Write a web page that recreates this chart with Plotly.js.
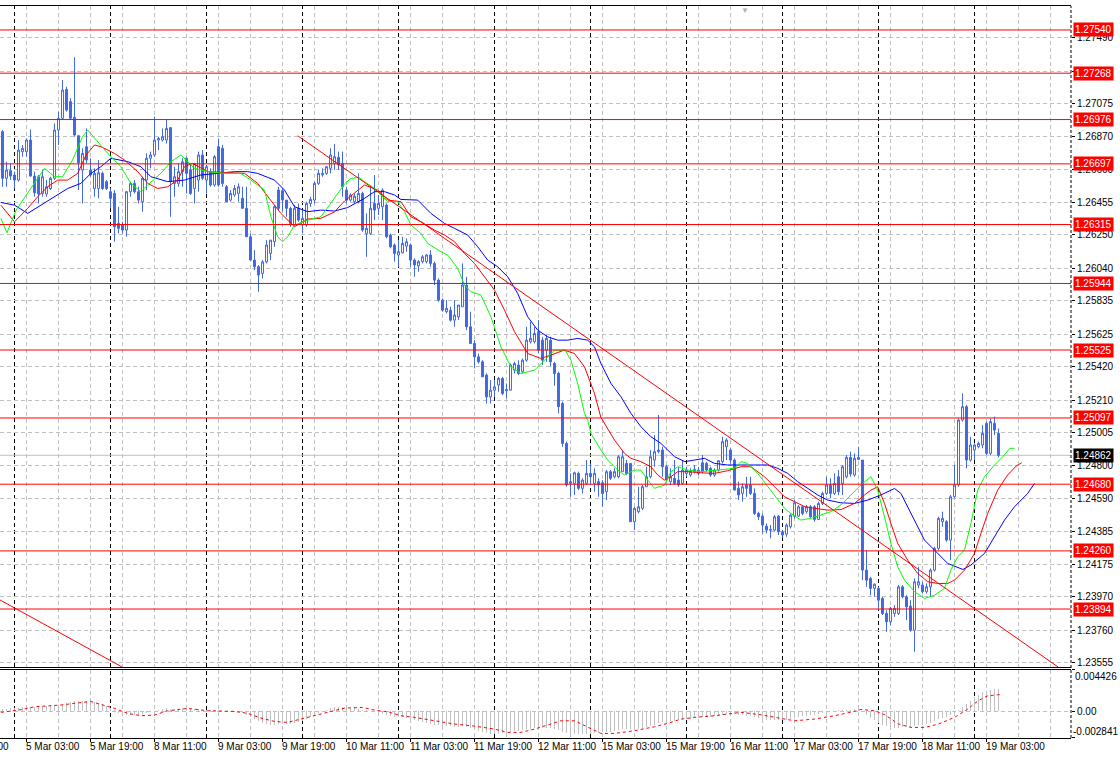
<!DOCTYPE html>
<html><head><meta charset="utf-8">
<script src="https://cdn.plot.ly/plotly-3.0.1.min.js"></script>
<style>html,body{margin:0;padding:0;background:#fff}#chart{width:1120px;height:758px}</style>
</head><body><div id="chart"></div>
<script>
// H1 bars, index 0 = 5 Mar 00:00 (first visible bar index -3)
const firstBar = -3;
const openP = [
1.26900,1.26606,1.26654,1.26627,1.26595,1.26774,1.26774,1.26847,1.26620,1.26616,
1.26511,1.26507,1.26542,1.26606,1.26910,1.26984,1.27166,1.27089,1.26990,1.26874,
1.26658,1.26805,1.26658,1.26542,1.26542,1.26637,1.26585,1.26522,1.26511,1.26322,
1.26312,1.26280,1.26522,1.26574,1.26522,1.26459,1.26595,1.26732,1.26753,1.26847,
1.26847,1.26847,1.26925,1.26574,1.26574,1.26648,1.26732,1.26658,1.26542,1.26595,
1.26753,1.26595,1.26648,1.26564,1.26805,1.26795,1.26553,1.26469,1.26501,1.26511,
1.26480,1.26417,1.26238,1.26091,1.26049,1.26007,1.26080,1.26133,1.26207,1.26532,
1.26528,1.26469,1.26417,1.26312,1.26417,1.26312,1.26312,1.26448,1.26469,1.26574,
1.26627,1.26637,1.26669,1.26700,1.26738,1.26700,1.26532,1.26469,1.26459,1.26459,
1.26511,1.26259,1.26259,1.26448,1.26417,1.26427,1.26438,1.26249,1.26186,1.26123,
1.26137,1.26179,1.26186,1.26091,1.26055,1.26081,1.26081,1.26123,1.26070,1.25965,
1.25839,1.25766,1.25776,1.25713,1.25734,1.25797,1.25934,1.25671,1.25566,1.25482,
1.25451,1.25367,1.25230,1.25272,1.25304,1.25346,1.25268,1.25272,1.25398,1.25430,
1.25388,1.25461,1.25577,1.25577,1.25640,1.25587,1.25524,1.25587,1.25440,1.25378,
1.25189,1.24937,1.24685,1.24685,1.24748,1.24654,1.24685,1.24748,1.24685,1.24696,
1.24689,1.24633,1.24759,1.24727,1.24727,1.24759,1.24811,1.24811,1.24444,1.24507,
1.24528,1.24664,1.24727,1.24832,1.24885,1.24895,1.24790,1.24696,1.24717,1.24706,
1.24685,1.24748,1.24738,1.24759,1.24748,1.24815,1.24811,1.24780,1.24738,1.24769,
1.24822,1.24916,1.24895,1.24832,1.24654,1.24622,1.24675,1.24675,1.24622,1.24496,
1.24479,1.24416,1.24395,1.24391,1.24479,1.24381,1.24366,1.24412,1.24479,1.24479,
1.24538,1.24507,1.24538,1.24538,1.24458,1.24559,1.24622,1.24675,1.24622,1.24727,
1.24685,1.24727,1.24849,1.24738,1.24836,1.24832,1.24139,1.24087,1.24024,1.24024,
1.23961,1.23866,1.23814,1.23866,1.23866,1.24034,1.23971,1.23912,1.23761,1.24045,
1.24045,1.24003,1.24034,1.24139,1.24276,1.24444,1.24444,1.24328,1.24601,1.24675,
1.25084,1.25168,1.24832,1.24895,1.24916,1.24927,1.25063,1.24874,1.25063,1.25000];
const highP = [
1.26910,1.26710,1.26700,1.26648,1.26847,1.26816,1.26857,1.26914,1.26648,1.26627,
1.26658,1.26595,1.26616,1.26952,1.27026,1.27225,1.27183,1.27110,1.27368,1.26879,
1.26795,1.26920,1.26732,1.26669,1.26721,1.26648,1.26595,1.26542,1.26532,1.26427,
1.26333,1.26522,1.26585,1.26595,1.26553,1.26616,1.26763,1.26774,1.26994,1.26868,
1.26920,1.26973,1.26927,1.26679,1.26700,1.26732,1.26742,1.26690,1.26700,1.26774,
1.26784,1.26690,1.26669,1.26753,1.26857,1.26816,1.26564,1.26532,1.26564,1.26574,
1.26553,1.26553,1.26259,1.26154,1.26060,1.26091,1.26217,1.26217,1.26438,1.26553,
1.26542,1.26469,1.26427,1.26438,1.26448,1.26406,1.26459,1.26490,1.26585,1.26658,
1.26669,1.26683,1.26795,1.26822,1.26774,1.26774,1.26553,1.26511,1.26511,1.26637,
1.26522,1.26385,1.26564,1.26627,1.26501,1.26543,1.26448,1.26259,1.26196,1.26217,
1.26238,1.26228,1.26196,1.26102,1.26091,1.26123,1.26129,1.26154,1.26081,1.25976,
1.25850,1.25839,1.25797,1.25839,1.25808,1.26070,1.25986,1.25766,1.25587,1.25503,
1.25461,1.25377,1.25335,1.25335,1.25356,1.25356,1.25314,1.25440,1.25451,1.25461,
1.25472,1.25671,1.25703,1.25671,1.25713,1.25608,1.25619,1.25608,1.25451,1.25389,
1.25200,1.24948,1.24748,1.24759,1.24759,1.24717,1.24832,1.24811,1.24780,1.24717,
1.24706,1.24769,1.24769,1.24780,1.24864,1.24895,1.24832,1.24811,1.24538,1.24664,
1.24675,1.24790,1.24895,1.24990,1.25116,1.24916,1.24801,1.24780,1.24832,1.24790,
1.24832,1.24790,1.24780,1.24801,1.24790,1.24864,1.24822,1.24790,1.24780,1.24832,
1.24979,1.24969,1.24906,1.24843,1.24696,1.24685,1.24727,1.24727,1.24654,1.24507,
1.24496,1.24433,1.24423,1.24486,1.24486,1.24391,1.24433,1.24496,1.24580,1.24549,
1.24549,1.24549,1.24549,1.24549,1.24570,1.24633,1.24727,1.24717,1.24748,1.24769,
1.24801,1.24864,1.24885,1.24874,1.24916,1.24832,1.24265,1.24097,1.24055,1.24034,
1.23971,1.23887,1.23908,1.23919,1.24045,1.24045,1.23981,1.23950,1.24087,1.24160,
1.24066,1.24055,1.24150,1.24286,1.24475,1.24507,1.24454,1.24612,1.24801,1.25094,
1.25252,1.25179,1.24979,1.24937,1.24948,1.25052,1.25074,1.25094,1.25105,1.25031];
const lowP = [
1.26553,1.26553,1.26595,1.26542,1.26585,1.26742,1.26742,1.26616,1.26490,1.26448,
1.26490,1.26490,1.26532,1.26595,1.26816,1.26973,1.27026,1.26973,1.26868,1.26532,
1.26448,1.26700,1.26616,1.26490,1.26480,1.26532,1.26532,1.26417,1.26207,1.26259,
1.26259,1.26238,1.26490,1.26511,1.26448,1.26396,1.26532,1.26669,1.26742,1.26784,
1.26837,1.26826,1.26364,1.26490,1.26553,1.26553,1.26511,1.26501,1.26448,1.26522,
1.26595,1.26511,1.26553,1.26553,1.26553,1.26553,1.26459,1.26459,1.26490,1.26459,
1.26417,1.26238,1.26091,1.26028,1.25892,1.25976,1.26070,1.26091,1.26175,1.26406,
1.26396,1.26364,1.26301,1.26301,1.26333,1.26259,1.26301,1.26427,1.26448,1.26564,
1.26616,1.26627,1.26637,1.26658,1.26658,1.26490,1.26448,1.26459,1.26448,1.26448,
1.26270,1.26112,1.26249,1.26343,1.26375,1.26343,1.26228,1.26165,1.26081,1.26049,
1.26133,1.26144,1.26049,1.25986,1.26018,1.26070,1.26070,1.26049,1.25934,1.25828,
1.25766,1.25755,1.25703,1.25671,1.25713,1.25797,1.25650,1.25566,1.25409,1.25440,
1.25356,1.25188,1.25188,1.25230,1.25262,1.25241,1.25220,1.25268,1.25377,1.25367,
1.25377,1.25451,1.25566,1.25566,1.25503,1.25430,1.25451,1.25420,1.25300,1.25126,
1.24916,1.24664,1.24601,1.24612,1.24643,1.24622,1.24675,1.24675,1.24633,1.24601,
1.24538,1.24580,1.24706,1.24717,1.24717,1.24759,1.24738,1.24444,1.24391,1.24496,
1.24517,1.24664,1.24717,1.24790,1.24874,1.24727,1.24696,1.24675,1.24675,1.24664,
1.24675,1.24727,1.24727,1.24748,1.24738,1.24748,1.24759,1.24727,1.24727,1.24759,
1.24811,1.24832,1.24811,1.24643,1.24580,1.24570,1.24601,1.24612,1.24486,1.24454,
1.24370,1.24370,1.24339,1.24381,1.24360,1.24345,1.24349,1.24401,1.24464,1.24475,
1.24485,1.24496,1.24464,1.24444,1.24454,1.24549,1.24612,1.24591,1.24612,1.24612,
1.24612,1.24717,1.24727,1.24727,1.24832,1.24076,1.24034,1.23981,1.23971,1.23887,
1.23856,1.23751,1.23793,1.23845,1.23856,1.23961,1.23824,1.23751,1.23625,1.24024,
1.23992,1.23992,1.23971,1.24129,1.24265,1.24412,1.24318,1.24202,1.24591,1.24664,
1.25074,1.24780,1.24822,1.24832,1.24906,1.24906,1.24864,1.24864,1.24990,1.24849];
const closeP = [
1.26606,1.26658,1.26620,1.26595,1.26784,1.26795,1.26847,1.26620,1.26515,1.26507,
1.26616,1.26553,1.26606,1.26910,1.26984,1.27162,1.27036,1.26984,1.26879,1.26704,
1.26763,1.26721,1.26627,1.26637,1.26641,1.26542,1.26542,1.26480,1.26301,1.26291,
1.26280,1.26522,1.26574,1.26522,1.26469,1.26606,1.26732,1.26753,1.26847,1.26857,
1.26868,1.26920,1.26585,1.26616,1.26648,1.26710,1.26637,1.26511,1.26700,1.26753,
1.26606,1.26679,1.26564,1.26742,1.26564,1.26574,1.26459,1.26511,1.26542,1.26553,
1.26417,1.26238,1.26091,1.26049,1.25997,1.26080,1.26186,1.26217,1.26427,1.26417,
1.26469,1.26417,1.26322,1.26417,1.26343,1.26354,1.26448,1.26473,1.26574,1.26637,
1.26637,1.26679,1.26753,1.26742,1.26690,1.26553,1.26469,1.26501,1.26494,1.26511,
1.26280,1.26291,1.26417,1.26406,1.26448,1.26532,1.26238,1.26175,1.26133,1.26144,
1.26196,1.26207,1.26091,1.26060,1.26081,1.26112,1.26123,1.26070,1.25965,1.25839,
1.25776,1.25787,1.25713,1.25745,1.25808,1.25934,1.25671,1.25566,1.25482,1.25451,
1.25356,1.25230,1.25272,1.25293,1.25346,1.25251,1.25276,1.25430,1.25440,1.25377,
1.25461,1.25587,1.25598,1.25629,1.25524,1.25461,1.25598,1.25451,1.25377,1.25168,
1.24937,1.24675,1.24696,1.24752,1.24654,1.24706,1.24748,1.24727,1.24748,1.24675,
1.24622,1.24759,1.24717,1.24759,1.24853,1.24853,1.24748,1.24444,1.24528,1.24538,
1.24664,1.24727,1.24853,1.24885,1.24895,1.24790,1.24706,1.24727,1.24685,1.24675,
1.24769,1.24769,1.24759,1.24773,1.24769,1.24759,1.24769,1.24738,1.24769,1.24828,
1.24948,1.24958,1.24832,1.24643,1.24612,1.24664,1.24654,1.24622,1.24496,1.24475,
1.24423,1.24391,1.24391,1.24475,1.24381,1.24360,1.24423,1.24485,1.24563,1.24538,
1.24496,1.24538,1.24475,1.24458,1.24559,1.24622,1.24675,1.24622,1.24685,1.24633,
1.24790,1.24849,1.24744,1.24843,1.24849,1.24139,1.24076,1.24024,1.24051,1.23950,
1.23866,1.23814,1.23898,1.23898,1.24034,1.23971,1.23908,1.23761,1.24066,1.24066,
1.24003,1.24034,1.24139,1.24276,1.24465,1.24465,1.24328,1.24601,1.24675,1.25084,
1.25168,1.24832,1.24927,1.24927,1.24937,1.24999,1.24874,1.25074,1.25021,1.24862];

// Alligator lines (bar index, price)
const jawIdx = [-3.4,0,3.3,6.6,10,13.3,16.6,19.1,21.6,24.1,28.3,31.6,34.1,38.3,42.5,46.6,55,58.3,60.8,65,67.5,70,73.3,76.6,80,83.3,87.5,90,92.5,95,96.6,100.8,104.1,107.5,110,113.3,115.8,118.3,120.8,123.3,125.8,128.3,130.8,133.3,135.8,138.3,140.8,143.3,145,146.6,149.1,151.6,154.1,156.6,159.1,161.6,165,167.6,170,172.5,175,178.3,181.6,185,188.3,190.8,193.3,195.8,198.3,200.8,203.3,206.6,210,213.3,216.6,220,221.6,225,227.5,230,233.3,237.1,239.1,242.5,245,247.5,250,253.3,255];
const jawPrice = [1.26454,1.26437,1.26385,1.26437,1.26490,1.26542,1.26574,1.26637,1.26679,1.26732,1.26711,1.26679,1.26616,1.26585,1.26595,1.26627,1.26648,1.26648,1.26637,1.26595,1.26532,1.26427,1.26396,1.26406,1.26400,1.26422,1.26480,1.26522,1.26522,1.26501,1.26473,1.26469,1.26385,1.26322,1.26291,1.26249,1.26175,1.26091,1.26049,1.25986,1.25881,1.25734,1.25650,1.25608,1.25587,1.25587,1.25598,1.25587,1.25545,1.25440,1.25315,1.25231,1.25126,1.25042,1.24979,1.24937,1.24853,1.24822,1.24832,1.24843,1.24811,1.24801,1.24801,1.24801,1.24801,1.24780,1.24748,1.24696,1.24654,1.24612,1.24580,1.24563,1.24559,1.24580,1.24612,1.24653,1.24622,1.24454,1.24328,1.24265,1.24181,1.24143,1.24171,1.24244,1.24349,1.24454,1.24538,1.24622,1.24685];
const teethIdx = [-3.4,0,3.3,5.8,8.3,10.8,13.3,15.8,17.9,20,21.6,25,27.5,30.8,33.3,35.8,38.3,40.8,42.5,44.5,48.3,55,57.5,60.8,63.3,66.6,70,73.3,76.6,80,82.5,85,87.5,90.8,93.3,96.6,99.1,101.6,105,107.5,110,112.5,115,117.5,120,122.5,125,128.3,131.6,134.1,137.4,140,142.5,145,146.6,150,152.5,154.1,156.6,159.1,160.8,162.5,164.1,165.8,168.3,171.6,175,178.3,181.6,184.1,187.5,190,192.5,195,197.6,200,203.3,206.6,210,212.5,214.1,215.8,217.5,219.1,220.8,223.3,225.8,228.3,230.8,233.3,235,237.5,240,241.6,243.3,245.8,248.3,250.4,251.8];
const teethPrice = [1.26437,1.26332,1.26417,1.26490,1.26553,1.26595,1.26595,1.26637,1.26753,1.26816,1.26805,1.26763,1.26721,1.26648,1.26574,1.26542,1.26553,1.26595,1.26679,1.26700,1.26648,1.26637,1.26637,1.26574,1.26490,1.26385,1.26301,1.26350,1.26354,1.26395,1.26463,1.26516,1.26564,1.26532,1.26469,1.26459,1.26364,1.26333,1.26280,1.26249,1.26207,1.26133,1.26070,1.25986,1.25902,1.25776,1.25640,1.25503,1.25472,1.25493,1.25524,1.25503,1.25419,1.25251,1.25100,1.24958,1.24874,1.24843,1.24822,1.24790,1.24738,1.24706,1.24727,1.24759,1.24759,1.24752,1.24748,1.24765,1.24790,1.24790,1.24727,1.24664,1.24601,1.24570,1.24538,1.24528,1.24517,1.24520,1.24559,1.24612,1.24643,1.24664,1.24559,1.24433,1.24307,1.24202,1.24118,1.24066,1.24055,1.24055,1.24076,1.24139,1.24244,1.24370,1.24496,1.24643,1.24738,1.24794,1.24815];
const lipsIdx = [-3.4,-1.9,0.4,5,7.5,10,12,14.5,17,18.3,20.4,23.3,26.6,29.1,31.6,33.3,36.6,39.1,41.6,42.9,45,48.3,52.5,56.6,59.1,62.5,64.1,65.8,67,68.3,70,73.3,76.6,79.1,82.5,84.1,86.1,87.5,90,93.3,95.8,97.5,99.1,101.6,103.3,106.6,108.3,110.8,112.5,114.1,116.6,119.1,121.6,124.1,126.6,130,131.6,133.3,135,137.6,139.1,140.8,142.5,143.3,144.1,146.6,148.3,150.8,152.5,155,156.6,158.3,160,162.5,164.1,165.8,168.3,171.6,175.8,180,181.6,183.3,185.8,189.1,192.5,194.1,196.6,199.1,201.6,204.1,206.6,209.1,211.6,214.1,215.8,217.5,219.1,220.8,222.5,225,227.5,230,232.5,234.1,235.8,237.5,239.1,240.8,242.5,245,247.5,248.8,250];
const lipsPrice = [1.26354,1.26263,1.26406,1.26574,1.26669,1.26616,1.26616,1.26721,1.26868,1.26910,1.26847,1.26763,1.26679,1.26574,1.26522,1.26564,1.26637,1.26710,1.26753,1.26721,1.26669,1.26648,1.26637,1.26637,1.26595,1.26532,1.26364,1.26238,1.26207,1.26238,1.26312,1.26343,1.26364,1.26450,1.26570,1.26605,1.26612,1.26585,1.26543,1.26459,1.26459,1.26396,1.26312,1.26259,1.26196,1.26144,1.26123,1.26039,1.25934,1.25892,1.25871,1.25734,1.25545,1.25419,1.25377,1.25398,1.25440,1.25482,1.25524,1.25524,1.25461,1.25314,1.25125,1.25083,1.25000,1.24895,1.24832,1.24769,1.24738,1.24769,1.24769,1.24706,1.24654,1.24675,1.24759,1.24790,1.24769,1.24759,1.24769,1.24780,1.24822,1.24811,1.24748,1.24643,1.24528,1.24496,1.24454,1.24465,1.24486,1.24507,1.24549,1.24612,1.24675,1.24727,1.24643,1.24475,1.24307,1.24160,1.24076,1.24003,1.23961,1.23981,1.24024,1.24139,1.24223,1.24265,1.24433,1.24643,1.24727,1.24801,1.24864,1.24906,1.24906];

// trend lines (bar index, price)
const trend1Idx = [70.8, 260.9];
const trend1Price = [1.26874, 1.23529];
const trend2Idx = [-3.625, 26.9];
const trend2Price = [1.23951, 1.23529];

// horizontal levels and current bid
const levels = [1.27540,1.27268,1.26976,1.26697,1.26315,1.25944,1.25525,1.25097,1.24680,1.24260,1.23894];
const bidPrice = 1.24862;

// MACD (main histogram per bar, signal read at points)
const macdHist = [
0.0003,0.0003,0.00035,0.00035,0.0004,0.00045,0.0005,0.0005,0.0005,0.00055,0.00055,0.0006,0.0006,
0.00065,0.0007,0.0008,0.0009,0.001,0.0011,0.00115,0.0011,0.0011,0.0011,0.001,0.0009,0.0008,0.0006,0.0004,0.0001,
-0.0002,-0.0003,-0.00035,-0.00035,-0.00035,-0.00035,-0.0003,-0.0002,-0.0001,0.00005,0.0002,0.0003,0.00035,0.0003,0.0003,0.0003,0.00035,0.00035,0.0003,0.0003,
0.00025,0.0002,0.00015,0.0001,0.0001,0.0001,0.00005,0,-0.00005,-0.00005,-0.0001,-0.0002,-0.0004,-0.0006,-0.0008,-0.001,-0.0012,-0.0013,-0.0014,-0.0014,
-0.00135,-0.0013,-0.0013,-0.0013,-0.00125,-0.0011,-0.001,-0.0008,-0.0006,-0.0004,-0.0002,0,0.0002,0.00035,0.00045,0.0005,0.00045,0.0004,0.0004,0.0004,
0.0003,0.0002,0.0001,0,-0.00005,-0.00015,-0.00025,-0.00035,-0.00045,-0.00055,-0.0006,-0.00065,-0.0007,-0.0008,-0.0009,-0.001,-0.0011,-0.0012,-0.0013,-0.0014,
-0.0015,-0.00155,-0.0016,-0.0016,-0.00165,-0.00165,-0.0016,-0.0017,-0.0018,-0.00195,-0.0021,-0.0022,-0.0023,-0.0024,-0.0024,-0.0024,-0.00235,-0.0023,-0.0022,-0.0021,
-0.00205,-0.002,-0.0019,-0.00185,-0.0018,-0.0018,-0.0018,-0.0018,-0.0018,-0.0019,-0.002,-0.00215,-0.0023,-0.0024,-0.00245,-0.00245,-0.00245,-0.0024,-0.0024,-0.00235,
-0.0023,-0.00225,-0.0022,-0.00215,-0.0021,-0.002,-0.0019,-0.00185,-0.0019,-0.0019,-0.00185,-0.0018,-0.0017,-0.00155,-0.0014,-0.00125,-0.00115,-0.0011,-0.00105,-0.001,
-0.00095,-0.0009,-0.00085,-0.0008,-0.00075,-0.0007,-0.00065,-0.0006,-0.00055,-0.0005,-0.00045,-0.00035,-0.0003,-0.00025,-0.0003,-0.00035,-0.0004,-0.00045,-0.0005,-0.0006,
-0.0007,-0.0008,-0.0009,-0.00095,-0.00095,-0.00095,-0.00095,-0.0009,-0.0008,-0.0007,-0.0006,-0.0005,-0.00045,-0.0004,-0.00035,-0.00025,-0.00015,-0.00005,0,0.00005,
0.0001,0.00015,0.0002,0.0002,0.00025,0.00025,-0.0001,-0.0004,-0.0007,-0.00095,-0.0012,-0.0014,-0.0016,-0.0017,-0.00175,-0.00175,-0.0017,-0.0017,-0.0017,-0.0016,
-0.0015,-0.0014,-0.0013,-0.0012,-0.00105,-0.00085,-0.0007,-0.0006,-0.00035,-0.0001,0.0002,0.0005,0.0008,0.0011,0.0015,0.0018,0.00205,0.0022,0.0023,0.00235,0.00235];
const signalIdx = [-3.4,1.6,5,11.6,19,21.6,25,28.3,31.6,35,38.3,43.3,48.3,55,58.3,61.6,65,68.3,71.6,75,78.3,82.5,87,90,93.3,96.6,100,105,110,115,120,123.3,126.6,130,133.3,136.6,140,143.3,146.6,150,155,160,163.3,166.6,170,175,179,181.6,186.6,191.6,195,200,205,210,211.6,215,217.6,221,224.1,227.6,231,235,238.3,240.9,243.3,245.8,247];
const signalVal = [-0.0001,0.00018,0.0005,0.00068,0.00107,0.00078,0.00032,-0.00021,-0.00046,-0.00039,0.00007,0.00032,0.00007,0,-0.00021,-0.00071,-0.00107,-0.00117,-0.00082,-0.00046,-0.00004,0.00036,0.00043,0.00014,-0.00004,-0.00046,-0.00064,-0.001,-0.00135,-0.00157,-0.00189,-0.00224,-0.00224,-0.00189,-0.00142,-0.001,-0.001,-0.00171,-0.00235,-0.00235,-0.00206,-0.00164,-0.00128,-0.00082,-0.00064,-0.00046,-0.00021,-0.0001,-0.00036,-0.00075,-0.001,-0.00082,-0.00046,0,0.00021,0.00007,-0.00036,-0.00135,-0.00171,-0.00171,-0.00135,-0.00064,0.00025,0.00114,0.00167,0.00178,0.00178];
const macdMax = 0.004426, macdMin = -0.002841;

// axis labels
const priceTicks = [1.27490,1.27280,1.27075,1.26870,1.26660,1.26455,1.26250,1.26040,1.25835,1.25625,1.25420,1.25210,1.25005,1.24800,1.24590,1.24385,1.24175,1.23970,1.23760,1.23555];
const timeTickIdx = [3,19,35,51,67,83,99,115,131,147,163,179,195,211,227,243];
const timeTickLabels = ['5 Mar 03:00','5 Mar 19:00','8 Mar 11:00','9 Mar 03:00','9 Mar 19:00','10 Mar 11:00','11 Mar 03:00','11 Mar 19:00','12 Mar 11:00','15 Mar 03:00','15 Mar 19:00','16 Mar 11:00','17 Mar 03:00','17 Mar 19:00','18 Mar 11:00','19 Mar 03:00'];
const hiddenTimeIdx = -13, hiddenTimeLabel = '4 Mar 11:00';
const gridIdx = [3,11,19,27,35,43,51,59,67,75,83,91,99,107,115,123,131,139,147,155,163,171,179,187,195,203,211,219,227,235,243,251,259];
const daySepIdx = [0,24,48,72,96,120,144,168,192,216,240];
const shiftMarkIdx = 182.5;   // MT4 chart-shift marker on the top edge

// ---------- build ----------
const barIdx = openP.map((_, k) => firstBar + k);
const xr = [-3.625, 264.125];
const toPaperX = v => (v - xr[0]) / (xr[1] - xr[0]);
const blue = '#4169E1';
const gridCol = '#C0C0C0';
const gdash = '4px,3px';
const axFont = {family:'Liberation Sans, Arial, sans-serif', size:10, color:'#000'};

const traces = [
  {type:'candlestick', x:barIdx, open:openP, high:highP, low:lowP, close:closeP,
   xaxis:'x2', yaxis:'y', whiskerwidth:0, hoverinfo:'skip',
   increasing:{line:{color:blue, width:1}, fillcolor:'#FFFFFF'},
   decreasing:{line:{color:blue, width:1}, fillcolor:blue}},
  {type:'scatter', mode:'lines', x:jawIdx, y:jawPrice, xaxis:'x2', yaxis:'y', line:{color:'#0000FF', width:1}, hoverinfo:'skip'},
  {type:'scatter', mode:'lines', x:teethIdx, y:teethPrice, xaxis:'x2', yaxis:'y', line:{color:'#FF0000', width:1}, hoverinfo:'skip'},
  {type:'scatter', mode:'lines', x:lipsIdx, y:lipsPrice, xaxis:'x2', yaxis:'y', line:{color:'#00FF00', width:1}, hoverinfo:'skip'},
  {type:'scatter', mode:'lines', x:trend1Idx, y:trend1Price, xaxis:'x2', yaxis:'y', line:{color:'#FF0000', width:1}, hoverinfo:'skip'},
  {type:'scatter', mode:'lines', x:trend2Idx, y:trend2Price, xaxis:'x2', yaxis:'y', line:{color:'#FF0000', width:1}, hoverinfo:'skip'},
  {type:'bar', x:barIdx, y:macdHist, xaxis:'x', yaxis:'y2', width:0.45, marker:{color:gridCol, line:{width:0}}, hoverinfo:'skip'},
  {type:'scatter', mode:'lines', x:signalIdx, y:signalVal, xaxis:'x', yaxis:'y2', line:{color:'#FF0000', width:1, dash:'3px,3px'}, hoverinfo:'skip'}
];

const shapes = [];
daySepIdx.forEach(d => {
  shapes.push({type:'line', xref:'x', x0:d, x1:d, yref:'y domain', y0:0, y1:1, line:{color:'#000', width:1, dash:gdash}, layer:'below'});
  shapes.push({type:'line', xref:'x', x0:d, x1:d, yref:'y2 domain', y0:0, y1:1, line:{color:'#000', width:1, dash:gdash}, layer:'below'});
});
shapes.push({type:'line', xref:'paper', x0:0, x1:1, yref:'y', y0:bidPrice, y1:bidPrice, line:{color:gridCol, width:1}, layer:'below'});
levels.forEach(lv => shapes.push({type:'line', xref:'paper', x0:0, x1:1, yref:'y', y0:lv, y1:lv, line:{color:'#FF0000', width:1}, layer:'above'}));
shapes.push({type:'line', xref:'paper', x0:1, x1:1, yref:'paper', y0:0, y1:1, line:{color:'#000', width:1, dash:'3px,2px'}, layer:'above'});

const annotations = [];
levels.forEach(lv => annotations.push({xref:'paper', x:1, xanchor:'left', xshift:2, yref:'y', y:lv, yanchor:'middle',
  text:lv.toFixed(5), showarrow:false, bgcolor:'#FF0000', font:{family:axFont.family, color:'#FFFFFF', size:10}, borderpad:1}));
annotations.push({xref:'paper', x:1, xanchor:'left', xshift:2, yref:'y', y:bidPrice, yanchor:'middle',
  text:bidPrice.toFixed(5), showarrow:false, bgcolor:'#000000', font:{family:axFont.family, color:'#FFFFFF', size:10}, borderpad:1});
annotations.push({xref:'paper', x:1, xanchor:'left', xshift:3, yref:'y2', y:macdMax, yanchor:'top', text:String(macdMax), showarrow:false, font:axFont, borderpad:0});
annotations.push({xref:'paper', x:1, xanchor:'left', xshift:1, yref:'y2', y:macdMin, yanchor:'bottom', text:String(macdMin), showarrow:false, font:axFont, borderpad:0});
// time labels: left-aligned at their tick, just below the bottom frame
timeTickIdx.forEach((ix, k) => annotations.push({xref:'paper', x:toPaperX(ix), xanchor:'left', xshift:-2, yref:'paper', y:0, yanchor:'top', yshift:-2,
  text:timeTickLabels[k], showarrow:false, font:axFont, borderpad:0}));
annotations.push({xref:'paper', x:toPaperX(hiddenTimeIdx), xanchor:'left', xshift:-8, yref:'paper', y:0, yanchor:'top', yshift:-2,
  text:hiddenTimeLabel, showarrow:false, font:axFont, borderpad:0});
annotations.push({xref:'paper', x:toPaperX(shiftMarkIdx), xanchor:'center', yref:'paper', y:1, yanchor:'top', yshift:1,
  text:'▼', showarrow:false, font:{size:8, color:'#B0B0B0'}, borderpad:0});

const layout = {
  width:1120, height:758, paper_bgcolor:'#FFFFFF', plot_bgcolor:'#FFFFFF',
  margin:{l:0, r:49, t:6, b:20}, showlegend:false, bargap:0,
  font:axFont,
  xaxis:{anchor:'y2', range:xr, tickmode:'array', tickvals:timeTickIdx, showticklabels:false,
    ticks:'outside', ticklen:3, tickcolor:'#000',
    showgrid:true, gridcolor:gridCol, griddash:gdash, gridwidth:1,
    minor:{tickmode:'array', tickvals:gridIdx.filter(v => !timeTickIdx.includes(v)), showgrid:true, gridcolor:gridCol, griddash:gdash, ticks:''},
    showline:true, linecolor:'#000', linewidth:1, mirror:true, zeroline:false, rangeslider:{visible:false}},
  xaxis2:{anchor:'y', matches:'x', range:xr, tickmode:'array', tickvals:gridIdx, showticklabels:false, ticks:'',
    showgrid:true, gridcolor:gridCol, griddash:gdash, gridwidth:1,
    showline:true, linecolor:'#000', linewidth:1, mirror:true, zeroline:false, rangeslider:{visible:false}},
  yaxis:{domain:[0.09699, 1], range:[1.23529, 1.27691], side:'right', tickmode:'array', tickvals:priceTicks,
    ticktext:priceTicks.map(v => v.toFixed(5)), ticks:'outside', ticklen:3, tickcolor:'#000',
    showgrid:true, gridcolor:gridCol, griddash:gdash, gridwidth:1, zeroline:false, showline:false},
  yaxis2:{domain:[0, 0.0929], range:[macdMin, macdMax], side:'right', tickmode:'array', tickvals:[macdMax, 0, macdMin],
    ticktext:['', '0.00', ''], ticks:'outside', ticklen:3, tickcolor:'#000',
    showgrid:true, gridcolor:gridCol, griddash:gdash, gridwidth:1, zeroline:false, showline:false},
  shapes:shapes, annotations:annotations
};

Plotly.newPlot('chart', traces, layout, {staticPlot:true, displayModeBar:false});
</script></body></html>
